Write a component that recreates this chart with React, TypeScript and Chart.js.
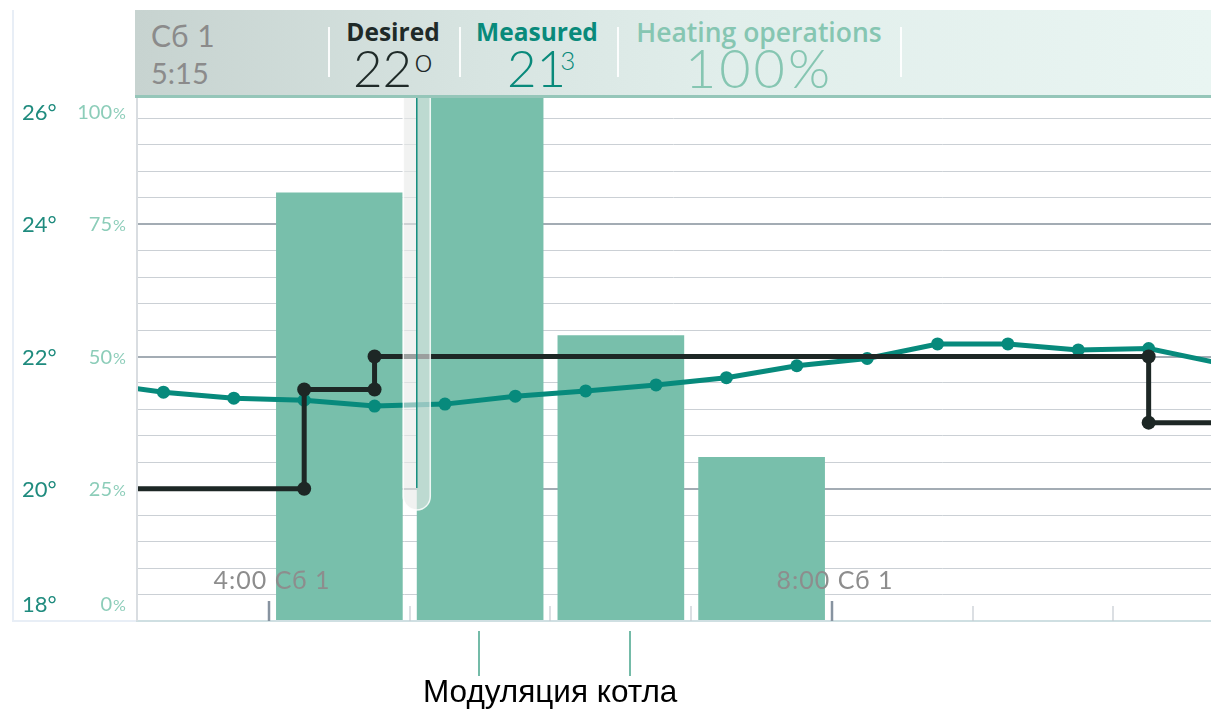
import React, { useEffect, useRef } from "react";
import { Chart, registerables } from "chart.js";

Chart.register(...registerables);

// ---- data ----
const barHours = [4.5, 5.5, 6.5, 7.5];
const heatingPercent = [81, 100, 54, 31];

const measuredHours = [2.75, 3.25, 3.75, 4.25, 4.75, 5.25, 5.75, 6.25, 6.75, 7.25, 7.75, 8.25, 8.75, 9.25, 9.75, 10.25, 10.75];
const measuredTemps = [21.6, 21.46, 21.37, 21.34, 21.25, 21.28, 21.4, 21.48, 21.57, 21.68, 21.86, 21.97, 22.19, 22.19, 22.1, 22.12, 21.9];

const desiredHours = [2.5, 4.25, 4.25, 4.75, 4.75, 10.25, 10.25, 11.0];
const desiredTemps = [20, 20, 21.5, 21.5, 22, 22, 21, 21];

const tempTicks = [18, 20, 22, 24, 26];
const pctTicks = [0, 25, 50, 75, 100];
const hourTicks = [4, 5, 6, 7, 8, 9, 10];
const majorHourTicks = [4, 8];
const timeLabelHours = [4, 8];
const timeLabels = ["4:00 Сб 1", "8:00 Сб 1"];

const xMin = 3.055;
const xMax = 10.693;
const cursorHour = 5.05;
const cursorBottomPct = 21;

const header = {
  day: "Сб 1",
  time: "5:15",
  desiredTitle: "Desired",
  desiredValue: "22",
  measuredTitle: "Measured",
  measuredValue: "21",
  measuredDecimal: "3",
  heatingTitle: "Heating operations",
  heatingValue: "100%",
};
const annotationText = "Модуляция котла";

const overlayPlugin = {
  id: "overlayPlugin",
  afterDatasetsDraw(chart: any) {
    const { ctx, chartArea: a, scales } = chart;
    const x = scales.x;
    const yP = scales.y;
    ctx.save();
    // plot left border
    ctx.strokeStyle = "#d9dde1";
    ctx.lineWidth = 2;
    ctx.beginPath();
    ctx.moveTo(a.left + 1, a.top);
    ctx.lineTo(a.left + 1, a.bottom);
    ctx.stroke();
    // hour ticks
    hourTicks.forEach((h) => {
      const px = Math.round(x.getPixelForValue(h));
      const major = majorHourTicks.includes(h);
      ctx.strokeStyle = major ? "#8793a0" : "#c4cad0";
      ctx.lineWidth = major ? 2.5 : 1.2;
      ctx.beginPath();
      ctx.moveTo(px, a.bottom - (major ? 20 : 15));
      ctx.lineTo(px, a.bottom);
      ctx.stroke();
    });
    // time labels
    ctx.font = "25px Lato";
    try {
      (ctx as any).letterSpacing = "1px";
    } catch (e) {}
    ctx.fillStyle = "#8d8d8d";
    ctx.textAlign = "center";
    ctx.textBaseline = "middle";
    timeLabelHours.forEach((h, i) => {
      ctx.fillText(timeLabels[i], x.getPixelForValue(h) + 3, a.bottom - 40);
    });
    try {
      (ctx as any).letterSpacing = "0px";
    } catch (e) {}
    // cursor
    const cx = x.getPixelForValue(cursorHour);
    const top = a.top;
    const bottom = yP.getPixelForValue(cursorBottomPct);
    const r = 13.5;
    ctx.beginPath();
    ctx.moveTo(cx - r, top);
    ctx.lineTo(cx - r, bottom - r);
    ctx.arc(cx, bottom - r, r, Math.PI, 0, true);
    ctx.lineTo(cx + r, top);
    ctx.closePath();
    ctx.fillStyle = "rgba(232,234,233,0.62)";
    ctx.fill();
    ctx.strokeStyle = "rgba(255,255,255,0.85)";
    ctx.lineWidth = 1.5;
    ctx.stroke();
    ctx.strokeStyle = "#138d7e";
    ctx.lineWidth = 1.5;
    ctx.beginPath();
    ctx.moveTo(cx, top);
    ctx.lineTo(cx, bottom - 22);
    ctx.stroke();
    ctx.restore();
  },
  afterDraw(chart: any) {
    const { ctx, chartArea: a, scales } = chart;
    const yT = scales.yT;
    const yP = scales.y;
    ctx.save();
    ctx.textBaseline = "alphabetic";
    tempTicks.forEach((v) => {
      let py = yT.getPixelForValue(v);
      py = Math.min(Math.max(py, a.top + 20), a.bottom - 17);
      ctx.font = "22px Lato";
      ctx.fillStyle = "#1f8b7e";
      ctx.textAlign = "left";
      ctx.fillText(`${v}°`, 22, py + 8);
    });
    pctTicks.forEach((v) => {
      let py = yP.getPixelForValue(v);
      py = Math.min(Math.max(py, a.top + 20), a.bottom - 17);
      ctx.fillStyle = "#8ccdb9";
      ctx.font = "20px Lato";
      ctx.textAlign = "right";
      ctx.fillText(`${v}`, 112, py + 7);
      ctx.font = "16px Lato";
      ctx.textAlign = "left";
      ctx.fillText("%", 113, py + 7);
    });
    ctx.restore();
  },
};

export default function App() {
  const ref = useRef<HTMLCanvasElement | null>(null);

  useEffect(() => {
    if (!ref.current) return;
    const chart = new Chart(ref.current, {
      type: "bar",
      data: {
        datasets: [
          {
            type: "line",
            label: "Desired",
            data: desiredHours.map((h, i) => ({ x: h, y: desiredTemps[i] })),
            yAxisID: "yT",
            borderColor: "#1d2725",
            backgroundColor: "#1d2725",
            borderWidth: 5,
            pointRadius: 7,
            pointBorderWidth: 0,
            tension: 0,
            order: 0,
          } as any,
          {
            type: "line",
            label: "Measured",
            data: measuredHours.map((h, i) => ({ x: h, y: measuredTemps[i] })),
            yAxisID: "yT",
            borderColor: "#078a7c",
            backgroundColor: "#078a7c",
            borderWidth: 5,
            pointRadius: 6.5,
            pointBorderWidth: 0,
            tension: 0,
            order: 1,
          } as any,
          {
            type: "bar",
            label: "Heating operations",
            data: barHours.map((h, i) => ({ x: h, y: heatingPercent[i] })),
            yAxisID: "y",
            backgroundColor: "#78bfab",
            borderWidth: 0,
            barPercentage: 0.9,
            categoryPercentage: 1,
            order: 2,
          } as any,
        ],
      },
      options: {
        animation: false,
        responsive: false,
        events: [],
        layout: { autoPadding: false, padding: { left: 136, top: 92, right: 0, bottom: 89 } },
        plugins: { legend: { display: false }, tooltip: { enabled: false } },
        scales: {
          x: {
            type: "linear",
            min: xMin,
            max: xMax,
            offset: false,
            display: false,
            ticks: { stepSize: 1, includeBounds: false },
          },
          y: {
            type: "linear",
            min: 0,
            max: 100,
            position: "left",
            display: true,
            ticks: { display: false, stepSize: 5 },
            grid: {
              drawTicks: false,
              color: (c: any) =>
                c.tick.value === 0 ? "#cfdfe2" : c.tick.value % 25 === 0 ? "#a3acb4" : "#cbd0d5",
              lineWidth: (c: any) => (c.tick.value % 25 === 0 ? 2 : 1),
            },
            border: { display: false },
            afterFit: (s: any) => {
              s.width = 0;
            },
          },
          yT: { type: "linear", min: 18, max: 26, display: false },
        },
      } as any,
      plugins: [overlayPlugin],
    });
    return () => chart.destroy();
  }, []);

  const sep = (left: number) => (
    <div style={{ position: "absolute", left: left - 135, top: 17, width: 2, height: 50, background: "rgba(255,255,255,0.9)" }} />
  );

  const titleFont = "'Open Sans', sans-serif";

  return (
    <div style={{ position: "absolute", left: 0, top: 0, width: 1211, height: 710, overflow: "hidden", background: "#fff" }}>
      <canvas ref={ref} width={1211} height={710} style={{ position: "absolute", left: 0, top: 0, width: 1211, height: 710 }} />
      {/* left panel borders */}
      <div style={{ position: "absolute", left: 12, top: 10, width: 2, height: 612, background: "#e8eef6" }} />
      <div style={{ position: "absolute", left: 12, top: 620, width: 124, height: 2, background: "#e8eef6" }} />
      {/* header */}
      <div
        style={{
          position: "absolute",
          left: 135,
          top: 10,
          width: 1076,
          height: 85,
          background: "linear-gradient(90deg, #c7d3d0 0%, #d6e3e0 30%, #e1eeeb 55%, #e9f5f2 100%)",
          borderBottom: "3px solid #95c6b9",
          fontFamily: "Lato, sans-serif",
        }}
      >
        <div style={{ position: "absolute", left: 16, top: 10, fontSize: 30, lineHeight: 1, color: "#8b8b8b", letterSpacing: 0.5 }}>{header.day}</div>
        <div style={{ position: "absolute", left: 16, top: 47.5, fontSize: 29, lineHeight: 1, color: "#8b8b8b" }}>{header.time}</div>
        {sep(328)}
        <div style={{ position: "absolute", left: 258 - 70, width: 140, textAlign: "center", top: 10.2, fontSize: 24.5, lineHeight: 1, fontFamily: titleFont, fontWeight: 700, color: "#1f2a28" }}>{header.desiredTitle}</div>
        <div style={{ position: "absolute", left: 218, top: 31.5, fontSize: 51, lineHeight: 1, fontWeight: 300, color: "#1f2a28", whiteSpace: "nowrap" }}>
          {header.desiredValue}
          <span style={{ fontSize: 33, position: "relative", top: -15, marginLeft: 2 }}>o</span>
        </div>
        {sep(459)}
        <div style={{ position: "absolute", left: 402 - 80, width: 160, textAlign: "center", top: 10.2, fontSize: 24.5, lineHeight: 1, fontFamily: titleFont, fontWeight: 700, color: "#098a7b" }}>{header.measuredTitle}</div>
        <div style={{ position: "absolute", left: 372, top: 32, fontSize: 51, lineHeight: 1, fontWeight: 300, color: "#098a7b", whiteSpace: "nowrap" }}>
          {header.measuredValue}
          <span style={{ fontSize: 26, position: "relative", top: -17, marginLeft: -6 }}>{header.measuredDecimal}</span>
        </div>
        {sep(617)}
        <div style={{ position: "absolute", left: 624 - 160, width: 320, textAlign: "center", top: 8.5, fontSize: 26.5, lineHeight: 1, fontFamily: titleFont, fontWeight: 600, color: "#86c6b2" }}>{header.heatingTitle}</div>
        <div style={{ position: "absolute", left: 624 - 160, width: 320, textAlign: "center", top: 31, fontSize: 54, lineHeight: 1, fontWeight: 300, color: "#86c6b2", letterSpacing: 3 }}>{header.heatingValue}</div>
        {sep(900)}
      </div>
      {/* annotation */}
      <div style={{ position: "absolute", left: 478, top: 631, width: 2, height: 45, background: "#74bba8" }} />
      <div style={{ position: "absolute", left: 629, top: 631, width: 2, height: 45, background: "#74bba8" }} />
      <div style={{ position: "absolute", left: 423, top: 676.3, fontSize: 31.5, lineHeight: 1, fontFamily: "'Liberation Sans', Arial, sans-serif", color: "#000", whiteSpace: "nowrap" }}>{annotationText}</div>
    </div>
  );
}
